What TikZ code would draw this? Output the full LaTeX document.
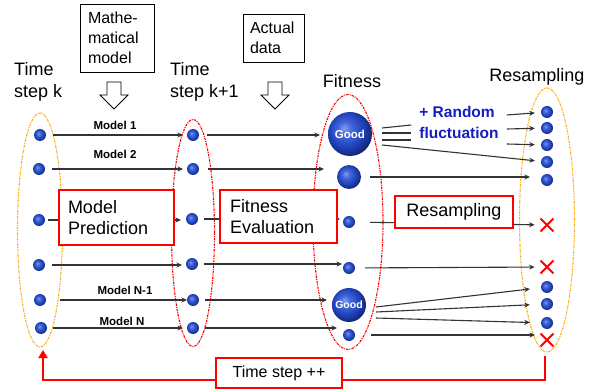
\documentclass[tikz,border=0pt]{standalone}
\usepackage{fontspec}
\setmainfont{Liberation Sans}
\usetikzlibrary{arrows.meta,shapes.misc}
\definecolor{dotblue}{RGB}{35,75,215}
\definecolor{randblue}{RGB}{20,30,190}
\definecolor{ellorange}{RGB}{250,175,30}
\pgfdeclareradialshading{blueball}{\pgfpoint{-7bp}{7bp}}{%
  color(0bp)=(dotblue!55!white);
  color(8bp)=(dotblue!85!white);
  color(20bp)=(dotblue!85!black);
  color(30bp)=(dotblue!45!black);
  color(50bp)=(dotblue!45!black)}
\pgfdeclarelayer{bg}
\pgfsetlayers{bg,main}
\begin{document}
\begin{tikzpicture}[x=1pt,y=-1pt,
  dot/.style={circle, inner sep=0pt, minimum size=12pt, shade, shading=blueball},
  gooddot/.style={dot, text=white, font=\fontsize{#1}{#1}\selectfont\bfseries},
  xmark/.style={cross out, draw=red, line width=1.8pt, minimum size=11pt, inner sep=0pt},
  conn/.style={draw=black!80, line width=1.1pt, -{Stealth[length=5.5pt,width=5pt]}},
  plainln/.style={draw=black!80, line width=1.1pt},
  ell/.style={dash pattern=on 2.5pt off 1pt on 1pt off 1pt, line width=1.1pt},
  redbox/.style={draw=red, line width=2.6pt, fill=white, inner ysep=0pt},
  blackbox/.style={draw=black, line width=0.9pt, fill=white, inner ysep=0pt, align=left, font=\fontsize{16}{20}\selectfont},
  bigtxt/.style={font=\fontsize{18}{22}\selectfont, inner sep=0pt, align=left},
  mlabel/.style={font=\fontsize{11.5}{12}\selectfont\bfseries, inner sep=0pt},
  hollow/.style={draw=black, line width=0.9pt, fill=white, line join=miter},
  redloop/.style={draw=red, line width=2.6pt}
]
\useasboundingbox (0,0) rectangle (600,390);

% dashed groupings
\draw[ell, draw=ellorange] (40,230) ellipse [x radius=22.5pt, y radius=117pt];
\draw[ell, draw=red] (193,233) ellipse [x radius=21.5pt, y radius=113.5pt];
\draw[ell, draw=red] (348,222) ellipse [x radius=35pt, y radius=127.5pt];
\draw[ell, draw=ellorange] (547,220) ellipse [x radius=27.5pt, y radius=132pt];

% top inputs
\node[blackbox, text width=58pt, inner xsep=8pt, minimum height=68pt] (mm) at (117,38) {Mathe-\\matical\\model};
\node[blackbox, text width=47pt, inner xsep=7pt, minimum height=48pt] (ad) at (273.5,38) {Actual\\data};
\draw[hollow] (107,82) -- (121,82) -- (121,95) -- (128,95) -- (114,109) -- (100,95) -- (107,95) -- cycle;
\draw[hollow] (268,82) -- (282,82) -- (282,95) -- (289,95) -- (275,109) -- (261,95) -- (268,95) -- cycle;

% column titles
\node[bigtxt, anchor=west] (tk) at (14,82) {Time\\step k};
\node[bigtxt, anchor=west] (tk1) at (170,82) {Time\\step k+1};
\node[bigtxt] (tf) at (352,81) {Fitness};
\node[bigtxt] (tr) at (537,77) {Resampling};

% time step k
\node[dot] (k1) at (40,135) {};
\node[dot] (k2) at (39,169) {};
\node[dot] (k3) at (39,220) {};
\node[dot] (k4) at (39,265) {};
\node[dot] (k5) at (40,300) {};
\node[dot] (k6) at (41,328) {};
% time step k+1
\node[dot] (m1) at (193,135) {};
\node[dot] (m2) at (193,169) {};
\node[dot] (m3) at (192,219) {};
\node[dot] (m4) at (192,264) {};
\node[dot] (m5) at (193,300) {};
\node[dot] (m6) at (193,328) {};
% fitness
\node[gooddot=11.5, minimum size=44pt] (f1) at (350,134) {Good};
\node[dot, minimum size=24pt] (f2) at (349,177) {};
\node[dot] (f3) at (349,222) {};
\node[dot] (f4) at (349,268) {};
\node[gooddot=10.5, minimum size=34pt] (f5) at (349,305) {Good};
\node[dot] (f6) at (349,335) {};
% resampling
\node[dot] (r1) at (547,112) {};
\node[dot] (r2) at (547,128) {};
\node[dot] (r3) at (547,145) {};
\node[dot] (r4) at (547,162) {};
\node[dot] (r5) at (547,180) {};
\node[xmark] (x1) at (547,225) {};
\node[xmark] (x2) at (547,267) {};
\node[dot] (r6) at (547,287) {};
\node[dot] (r7) at (547,304) {};
\node[dot] (r8) at (547,323) {};
\node[xmark] (x3) at (547,340) {};

% model prediction connectors
\draw[conn, shorten <=7pt, shorten >=10pt] (k1) -- (k1 -| m1);
\draw[conn, shorten <=7pt, shorten >=10pt] (k2) -- (k2 -| m2);
\draw[conn, shorten <=3pt, shorten >=11pt] (k3) -- (k3 -| m3);
\draw[conn, shorten <=7pt, shorten >=10pt] (k4) -- (k4 -| m4);
\draw[conn, shorten <=14pt, shorten >=6pt] (k5) -- (k5 -| m5);
\draw[conn, shorten <=6pt, shorten >=10pt] (k6) -- (k6 -| m6);
\node[mlabel] (l1) at (115,125) {Model 1};
\node[mlabel] (l2) at (115,154) {Model 2};
\node[mlabel] (l3) at (125,290) {Model N-1};
\node[mlabel] (l4) at (122,321) {Model N};

% fitness connectors
\draw[conn, shorten <=8pt, shorten >=30pt] (m1) -- (m1 -| f1);
\draw[conn, shorten <=9pt, shorten >=25pt] (m2) -- (m2 -| f2);
\draw[conn, shorten <=6pt, shorten >=9pt] (m3) -- (m3 -| f3);
\draw[conn, shorten <=6pt, shorten >=7pt] (m4) -- (m4 -| f4);
\draw[conn, shorten <=6pt, shorten >=22pt] (m5) -- (m5 -| f5);
\draw[conn, shorten <=6pt, shorten >=12pt] (m6) -- (m6 -| f6);

% random fluctuation
\node[font=\fontsize{15.5}{21}\selectfont\bfseries, text=randblue, align=left, inner xsep=8pt, inner ysep=0pt] (rf) at (459,122) {+ Random\\fluctuation};
\draw[plainln] ([shift={(32,-6)}]f1.center) -- ([yshift=-3pt]rf.west);
\draw[plainln] ([shift={(32,-1)}]f1.center) -- ([yshift=-11pt]rf.west);
\draw[plainln] ([shift={(32,6)}]f1.center) -- ([yshift=-18pt]rf.west);
\draw[conn, shorten >=6pt] ([yshift=7pt]rf.east) -- (r1);
\draw[conn, shorten >=6pt] ([yshift=-7pt]rf.east) -- (r2);
\draw[conn, shorten >=6pt] ([yshift=-22pt]rf.east) -- (r3);
\draw[conn, shorten >=6pt] ([shift={(32,11)}]f1.center) -- (r4);

% resampling connectors
\draw[conn, shorten <=9pt, shorten >=17pt] (f2) -- (f2 -| r5);
\draw[conn, shorten <=15pt, shorten >=6pt] (f3) -- (x1);
\draw[conn, shorten <=10pt, shorten >=6pt] (f4) -- (x2);
\draw[conn, shorten >=11pt] ([shift={(27,2)}]f5.center) -- (r6);
\draw[conn, shorten >=11pt] ([shift={(27,7)}]f5.center) -- (r7);
\draw[conn, shorten >=11pt] ([shift={(27,13)}]f5.center) -- (r8);
\draw[conn, shorten <=16pt, shorten >=12pt] (f6) -- (f6 -| x3);

% stage boxes
\node[redbox, text width=97pt, inner xsep=9pt, minimum height=55pt, align=left, font=\fontsize{18}{21}\selectfont] (mp) at (116.5,217.5) {Model\\Prediction};
\node[redbox, text width=97pt, inner xsep=10pt, minimum height=53pt, align=left, font=\fontsize{18}{21}\selectfont] (fe) at (278.5,216.5) {Fitness\\Evaluation};
\node[redbox, minimum width=118pt, minimum height=32pt, font=\fontsize{18}{21}\selectfont] (rs) at (454,212) {Resampling};

% loop back
\node[redbox, minimum width=126pt, minimum height=30pt, font=\fontsize{16}{20}\selectfont] (ts) at (279,373) {Time step ++};
\coordinate (cR) at (545,356);
\coordinate (cL) at (43,350);
\begin{pgfonlayer}{bg}
\draw[redloop] (cR) |- ([yshift=-7pt]ts.east);
\draw[redloop, -{Triangle[length=8pt,width=9pt]}] ([yshift=-7pt]ts.west) -| (cL);
\end{pgfonlayer}
\end{tikzpicture}
\end{document}
